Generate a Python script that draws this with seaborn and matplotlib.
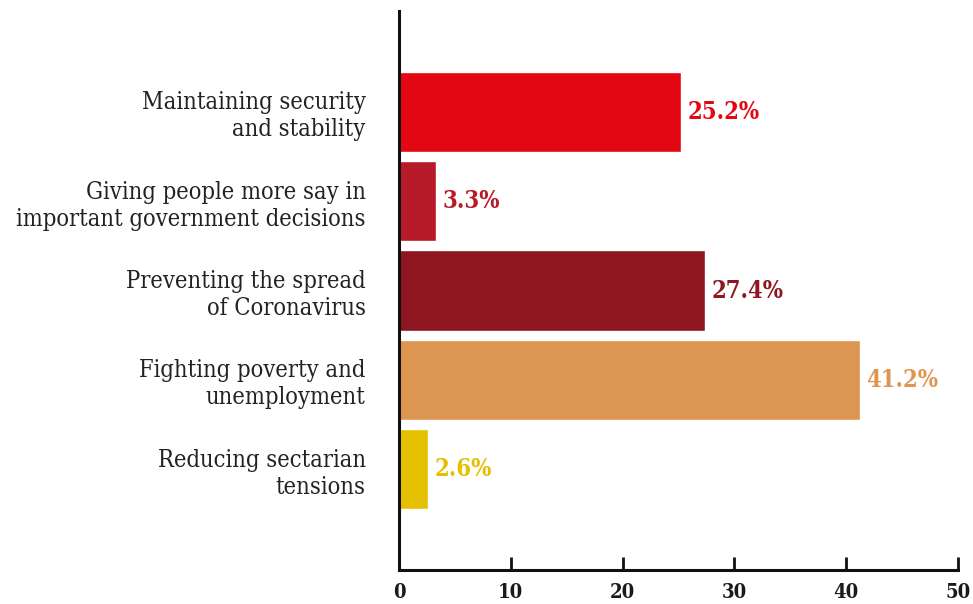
import matplotlib
matplotlib.use("Agg")
import matplotlib.pyplot as plt
import seaborn as sns
import pandas as pd

categories = [
    "Maintaining security\nand stability",
    "Giving people more say in\nimportant government decisions",
    "Preventing the spread\nof Coronavirus",
    "Fighting poverty and\nunemployment",
    "Reducing sectarian\ntensions",
]
values = [25.2, 3.3, 27.4, 41.2, 2.6]
bar_colors = ["#E30613", "#B71A29", "#8E1620", "#DD9651", "#E4C000"]
x_ticks = [0, 10, 20, 30, 40, 50]

df = pd.DataFrame({"category": categories, "value": values})

sns.set_style("white")
plt.rcParams["font.family"] = ["DejaVu Serif", "DejaVu Sans"]

fig = plt.figure(figsize=(9.73, 6.04), dpi=100)
ax = fig.add_axes([399 / 973, 1 - 570 / 604, 559 / 973, 559 / 604])

sns.barplot(data=df, x="value", y="category", hue="category",
            palette=bar_colors, orient="h", width=0.9, legend=False,
            saturation=1, ax=ax)

ax.set_xlim(0, 50)
ax.set_ylim(5.13, -1.13)
ax.set_xticks(x_ticks)
ax.set_xticklabels([str(t) for t in x_ticks], fontsize=14.5, fontweight="bold",
                   fontstretch="condensed", color="#1a1a1a")
ax.set_yticks(range(len(categories)))
ax.set_yticklabels(categories, fontsize=17, fontstretch="condensed",
                   color="#222222", linespacing=1.22)
ax.tick_params(axis="x", bottom=True, direction="in", length=9.5, width=2,
               pad=9, color="#111111")
ax.tick_params(axis="y", left=False, length=0, pad=24)
ax.set_xlabel("")
ax.set_ylabel("")

for side in ["top", "right"]:
    ax.spines[side].set_visible(False)
for side in ["left", "bottom"]:
    ax.spines[side].set_linewidth(2.2)
    ax.spines[side].set_color("#111111")

for i, (v, c) in enumerate(zip(values, bar_colors)):
    ax.text(v + 0.6, i, f"{v}%", va="center", ha="left", fontsize=17,
            fontweight="bold", fontstretch="condensed", color=c)

fig.savefig("out.png", dpi=100)
